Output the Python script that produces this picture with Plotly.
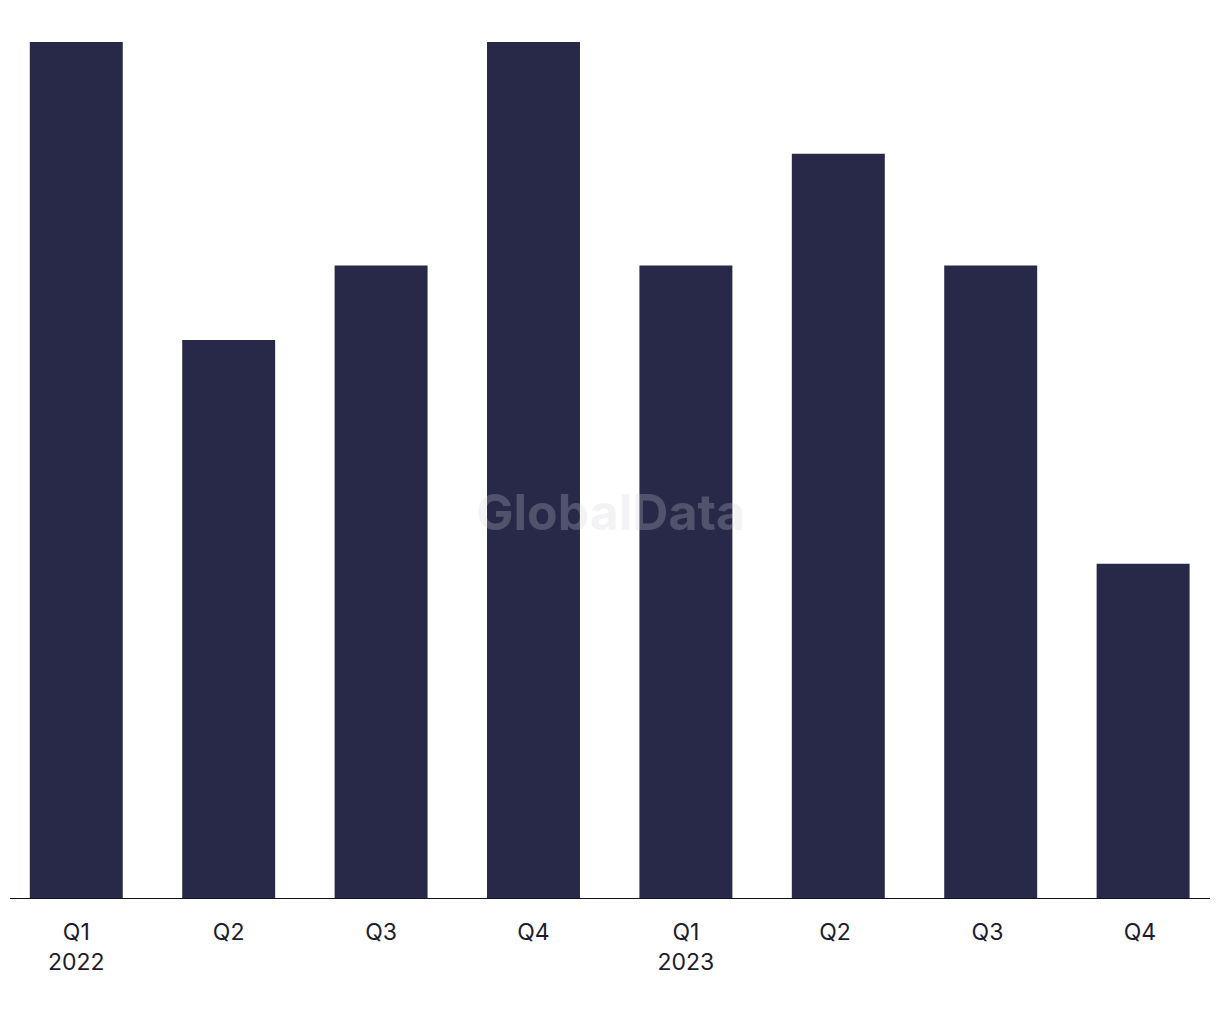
import plotly.graph_objects as go

categories = ["Q1<br>2022", "Q2", "Q3", "Q4", "Q1<br>2023", "Q2 ", "Q3 ", "Q4 "]
values = [23, 15, 17, 23, 17, 20, 17, 9]

BAR_COLOR = "#282849"
TEXT_COLOR = "#1c1c2e"

fig = go.Figure()
fig.add_trace(go.Bar(
    x=list(range(len(categories))),
    y=values,
    marker=dict(color=BAR_COLOR, line=dict(width=0)),
    hoverinfo="skip",
))

W, H = 1204, 1004

fig.update_layout(
    width=W,
    height=H,
    margin=dict(l=0, r=0, t=34, b=113),
    paper_bgcolor="white",
    plot_bgcolor="white",
    bargap=0.39,
    showlegend=False,
    font=dict(family="Inter, Roboto, sans-serif", size=23, color=TEXT_COLOR),
    xaxis=dict(
        tickmode="array",
        tickvals=list(range(len(categories))),
        ticktext=categories,
        range=[-0.448, 7.452],
        showgrid=False,
        zeroline=False,
        showline=False,
        ticks="",
        ticklabelstandoff=17,
    ),
    yaxis=dict(
        range=[0, 23],
        visible=False,
        showgrid=False,
        zeroline=False,
    ),
    shapes=[dict(
        type="line", xref="paper", yref="y",
        x0=2 / W, x1=1202 / W, y0=0, y1=0,
        line=dict(color="#111122", width=2),
    )],
    annotations=[dict(
        text="<b>GlobalData</b>",
        xref="paper", yref="paper", x=0.5, y=0.452,
        showarrow=False,
        font=dict(family="Inter, Roboto, sans-serif", size=50, color="rgba(206,206,216,0.25)"),
    )],
)

fig.write_html("out.html")
